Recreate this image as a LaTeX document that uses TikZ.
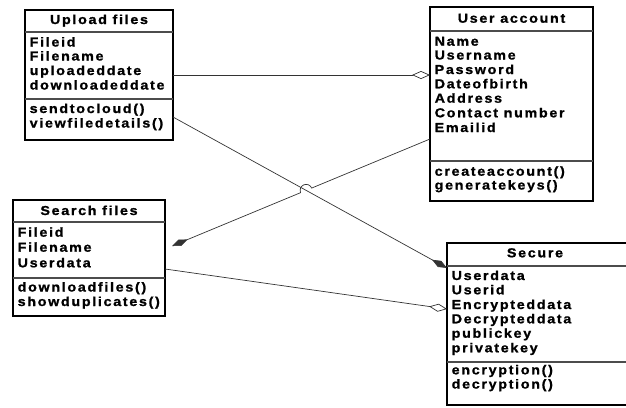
\documentclass[tikz,border=0pt]{standalone}
\usepackage{fontspec}
\newfontfamily\umlfont[FakeStretch=1.1,LetterSpace=13,FakeBold=1.2]{Liberation Sans}
\usetikzlibrary{arrows.meta,calc,intersections}
\begin{document}
\begin{tikzpicture}[x=1pt,y=1pt,
  txt/.style={inner sep=0pt, anchor=base west, font=\umlfont\bfseries\fontsize{13}{13}\selectfont},
  ttl/.style={txt, anchor=base},
  cls/.style={draw=black, line width=1.2pt, anchor=north west, inner sep=0pt, outer sep=0pt},
  sepline/.style={draw=black!70, line width=1.6pt},
  conn/.style={draw=black!80, line width=0.7pt},
  agg/.style={conn, -{Diamond[open,fill=white,length=18pt,width=8pt]}},
  comp/.style={conn, -{Diamond[length=17pt,width=7pt]}}]
\useasboundingbox (0,0) rectangle (626,-407);

% ---------- Upload files
\node[cls, minimum width=148pt, minimum height=130pt] (upload) at (25,-10) {};
\draw[sepline] ([yshift=-22pt]upload.north west) -- ([yshift=-22pt]upload.north east);
\draw[sepline] ([yshift=-89pt]upload.north west) -- ([yshift=-89pt]upload.north east);
\node[ttl] (ut) at (99,-24) {Upload files};
\foreach \t/\y [count=\i] in {Fileid/46.5, Filename/60.5, uploadeddate/75, downloadeddate/89.5, sendtocloud()/113, viewfiledetails()/127.5}
  \node[txt] (ua\i) at (29.5,-\y) {\t};

% ---------- User account
\node[cls, minimum width=163pt, minimum height=194pt] (user) at (430,-7) {};
\draw[sepline] ([yshift=-24pt]user.north west) -- ([yshift=-24pt]user.north east);
\draw[sepline] ([yshift=-154pt]user.north west) -- ([yshift=-154pt]user.north east);
\node[ttl] (uat) at (511.5,-22.7) {User account};
\foreach \t/\y [count=\i] in {Name/45.7, Username/59.5, Password/74, Dateofbirth/88.3, Address/102.7, Contact number/117.3, Emailid/132, createaccount()/175.7, generatekeys()/189.5}
  \node[txt] (uu\i) at (434.5,-\y) {\t};

% ---------- Search files
\node[cls, minimum width=152pt, minimum height=116pt] (search) at (13,-200) {};
\draw[sepline] ([yshift=-22pt]search.north west) -- ([yshift=-22pt]search.north east);
\draw[sepline] ([yshift=-78pt]search.north west) -- ([yshift=-78pt]search.north east);
\node[ttl] (st) at (89,-215) {Search files};
\foreach \t/\y [count=\i] in {Fileid/236.7, Filename/251.7, Userdata/267.3, downloadfiles()/291.5, showduplicates()/306}
  \node[txt] (sa\i) at (17.5,-\y) {\t};

% ---------- Secure
\node[cls, minimum width=190pt, minimum height=162pt] (secure) at (447,-243) {};
\draw[sepline] ([yshift=-23pt]secure.north west) -- ([yshift=-23pt]secure.north east);
\draw[sepline] ([yshift=-119pt]secure.north west) -- ([yshift=-119pt]secure.north east);
\node[ttl] (sct) at (535,-257.3) {Secure};
\foreach \t/\y [count=\i] in {Userdata/280, Userid/294.3, Encrypteddata/309, Decrypteddata/323.3, publickey/337.7, privatekey/352.3, encryption()/374.3, decryption()/388.5}
  \node[txt] (sc\i) at (451.5,-\y) {\t};

% ---------- connectors
\coordinate (s2) at ([yshift=-42pt]upload.east);
\coordinate (e2) at ([yshift=56pt]secure.west);
\coordinate (s3) at ([yshift=-35pt]user.west);
\coordinate (e3) at ([xshift=7pt,yshift=12pt]search.east);
\coordinate (s4) at ([yshift=-11pt]search.east);
\coordinate (e4) at ([yshift=15pt]secure.west);

\draw[agg] (upload.east) -- (upload.east -| user.west);
\draw[comp, name path=p2] (s2) -- (e2);
\path[name path=p3] (s3) -- (e3);
\path[name intersections={of=p2 and p3, by=X}];
\draw[comp] let \p1=($(s3)-(X)$), \n1={atan2(\y1,\x1)} in
  (s3) -- ($(X)!6pt!(s3)$) arc[start angle=\n1, end angle=\n1+180, radius=6pt] -- (e3);
\draw[agg] (s4) -- (e4);
\end{tikzpicture}
\end{document}
